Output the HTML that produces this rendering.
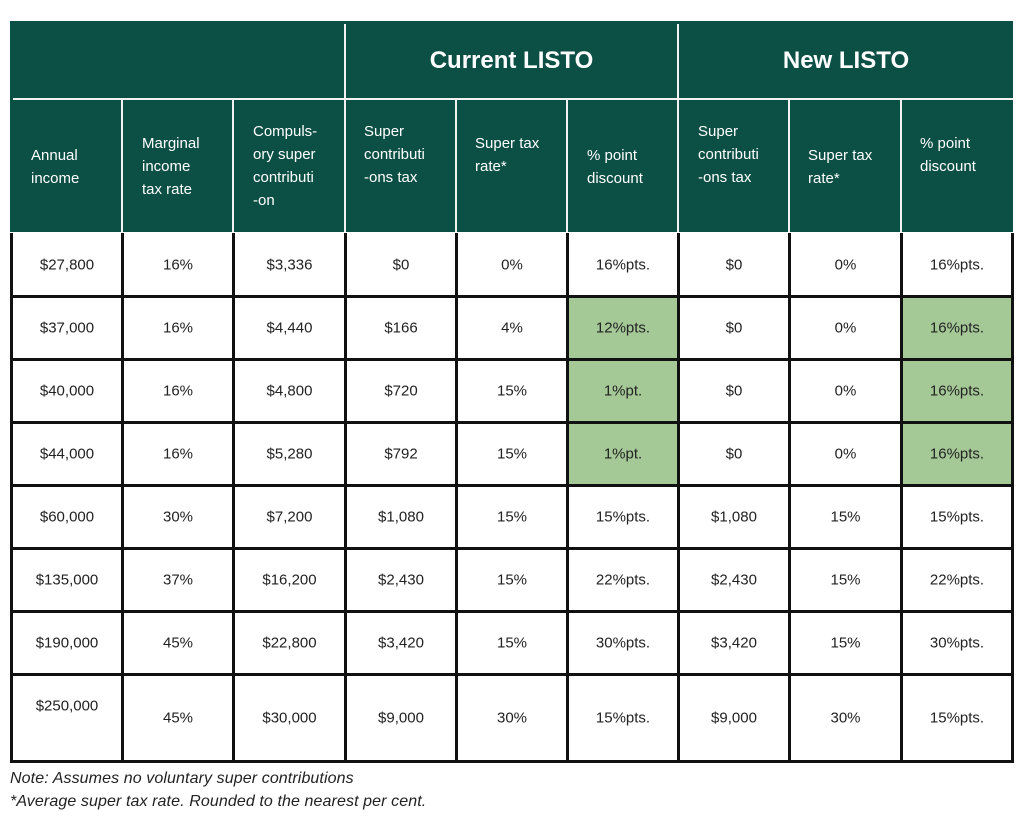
<!DOCTYPE html>
<html><head><meta charset="utf-8"><style>
body{margin:0;width:1024px;height:833px;background:#fff;position:relative;overflow:hidden;font-family:"Liberation Sans",sans-serif;color:#222}
.a{position:absolute}
.g{background:#0c4f45}
.w{background:#f2f2f2}
.b{background:#111}
.lg{background:#a5c897}
.t{position:absolute;font-size:15px;text-align:center;transform:translateY(-50%);white-space:nowrap}
.h{position:absolute;color:#fff;font-size:15px;line-height:23px;white-space:nowrap}
.H{position:absolute;color:#fff;font-size:24px;font-weight:bold;text-align:center;transform:translateY(-50%)}
.n{position:absolute;font-size:16px;font-style:italic;left:10px;letter-spacing:0.1px}
</style></head><body>
<div class="a g" style="left:10px;top:21px;width:1003px;height:211px"></div>
<div class="a w" style="left:13px;top:98px;width:1000px;height:2px"></div>
<div class="a w" style="left:344px;top:24px;width:2px;height:208px"></div>
<div class="a w" style="left:677px;top:24px;width:2px;height:208px"></div>
<div class="a w" style="left:121px;top:100px;width:2px;height:132px"></div>
<div class="a w" style="left:232px;top:100px;width:2px;height:132px"></div>
<div class="a w" style="left:455px;top:100px;width:2px;height:132px"></div>
<div class="a w" style="left:566px;top:100px;width:2px;height:132px"></div>
<div class="a w" style="left:788px;top:100px;width:2px;height:132px"></div>
<div class="a w" style="left:900px;top:100px;width:2px;height:132px"></div>
<div class="H" style="left:346px;width:331px;top:61px">Current LISTO</div>
<div class="H" style="left:679px;width:334px;top:61px">New LISTO</div>
<div class="h" style="left:31px;top:144px">Annual<br>income</div>
<div class="h" style="left:142px;top:132px">Marginal<br>income<br>tax rate</div>
<div class="h" style="left:253px;top:120px">Compuls-<br>ory super<br>contributi<br>-on</div>
<div class="h" style="left:364px;top:120px">Super<br>contributi<br>-ons tax</div>
<div class="h" style="left:475px;top:132px">Super tax<br>rate*</div>
<div class="h" style="left:587px;top:144px">% point<br>discount</div>
<div class="h" style="left:698px;top:120px">Super<br>contributi<br>-ons tax</div>
<div class="h" style="left:808px;top:144px">Super tax<br>rate*</div>
<div class="h" style="left:920px;top:132px">% point<br>discount</div>
<div class="a lg" style="left:568px;top:297px;width:110px;height:189px"></div>
<div class="a lg" style="left:901px;top:297px;width:111px;height:189px"></div>
<div id="grid"></div>
<script>
var xs=[10,121,232,344,455,566,677,788,900,1011];
var ys=[295,358,421,484,547,610,673,760];
var s='';
xs.forEach(function(x){s+='<div class="a b" style="left:'+x+'px;top:233px;width:3px;height:530px"></div>';});
ys.forEach(function(y){s+='<div class="a b" style="left:10px;top:'+y+'px;width:1004px;height:3px"></div>';});
var rows=[
["$27,800","16%","$3,336","$0","0%","16%pts.","$0","0%","16%pts."],
["$37,000","16%","$4,440","$166","4%","12%pts.","$0","0%","16%pts."],
["$40,000","16%","$4,800","$720","15%","1%pt.","$0","0%","16%pts."],
["$44,000","16%","$5,280","$792","15%","1%pt.","$0","0%","16%pts."],
["$60,000","30%","$7,200","$1,080","15%","15%pts.","$1,080","15%","15%pts."],
["$135,000","37%","$16,200","$2,430","15%","22%pts.","$2,430","15%","22%pts."],
["$190,000","45%","$22,800","$3,420","15%","30%pts.","$3,420","15%","30%pts."],
["$250,000","45%","$30,000","$9,000","30%","15%pts.","$9,000","30%","15%pts."]];
var cy=[265,328,391,454,517,580,643,718];
rows.forEach(function(r,i){r.forEach(function(t,j){var y=cy[i];if(i==7&&j==0)y=706;
s+='<div class="t" style="left:'+(xs[j]+3)+'px;width:'+(xs[j+1]-xs[j]-3)+'px;top:'+y+'px">'+t+'</div>';});});
document.getElementById('grid').innerHTML=s;
</script>
<div class="n" style="top:770px">Note: Assumes no voluntary super contributions</div>
<div class="n" style="top:793px">*Average super tax rate. Rounded to the nearest per cent.</div>
</body></html>
